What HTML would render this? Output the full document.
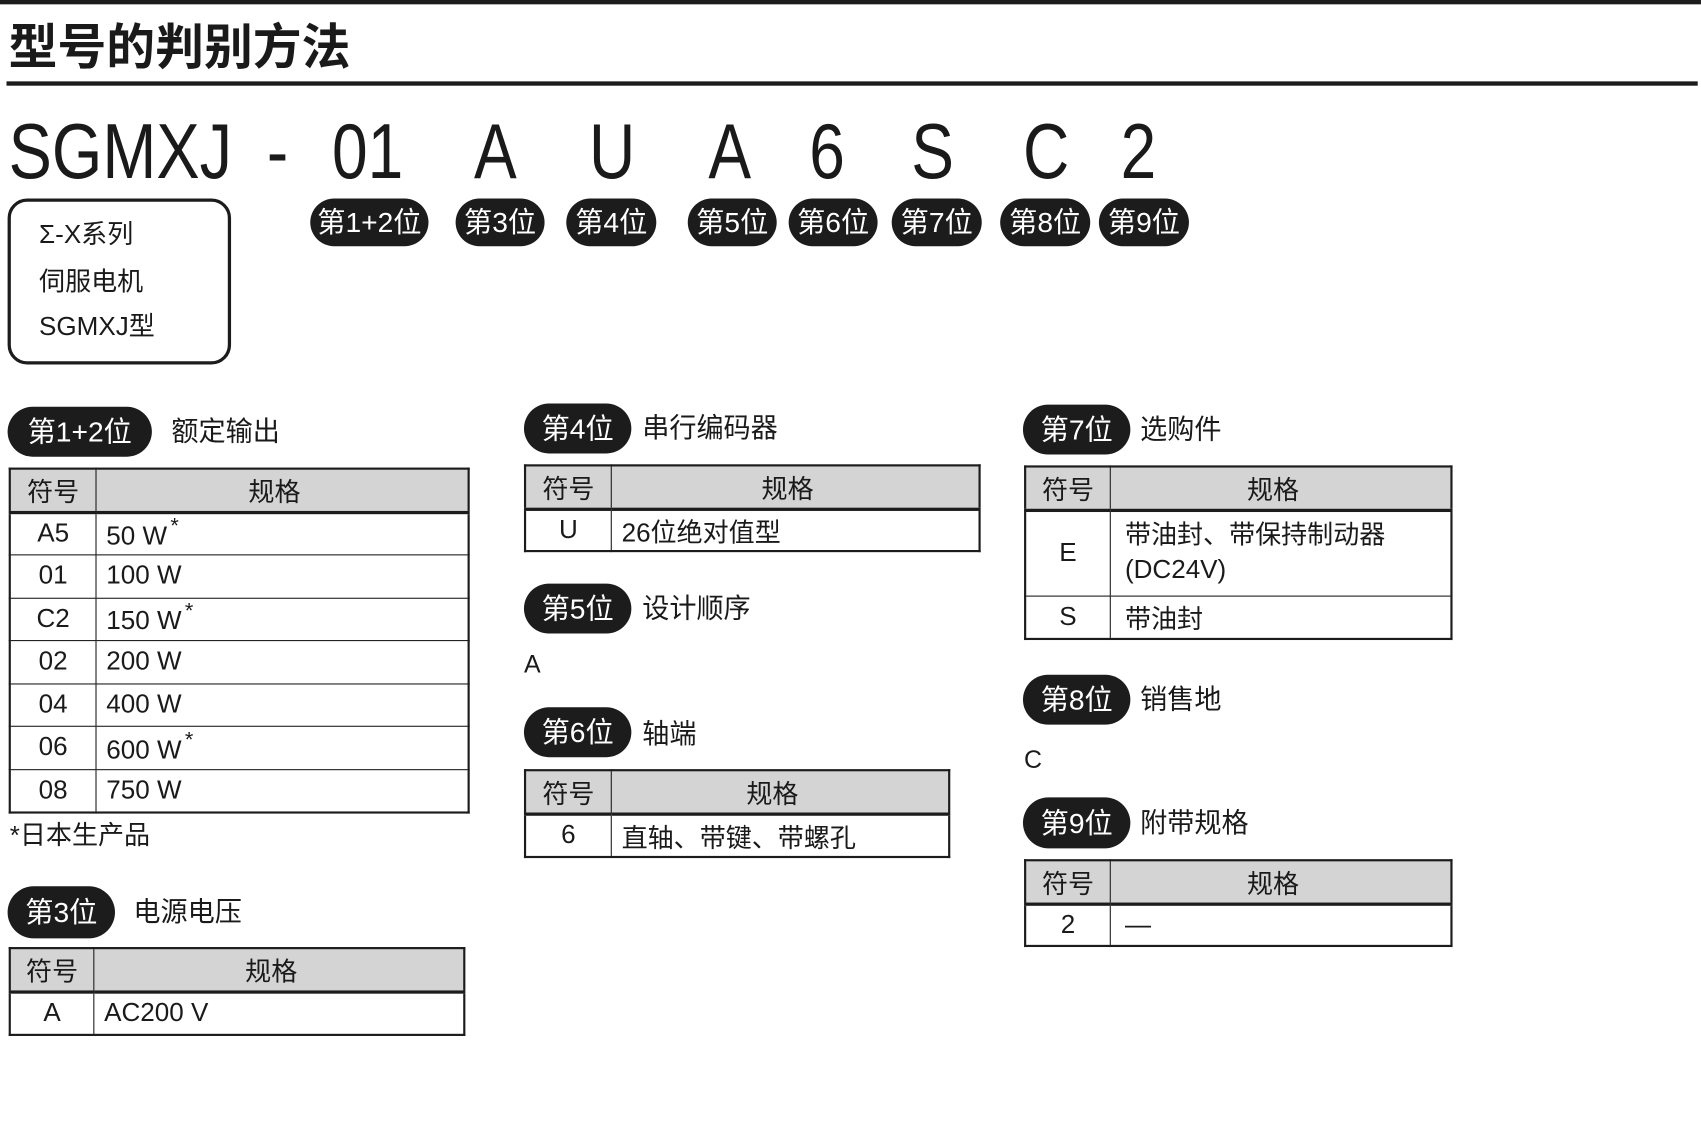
<!DOCTYPE html>
<html><head><meta charset="utf-8">
<style>
html,body{margin:0;padding:0;background:#fff;width:1701px;height:1134px;overflow:hidden}
#c{position:absolute;left:0;top:0;width:1568px;height:1045px;transform:scale(1.0848);transform-origin:0 0;font-family:"Liberation Sans Narrow","Liberation Sans","Noto Sans CJK SC",sans-serif;color:#1a1a1a}
.a{position:absolute;white-space:nowrap}
.pill{position:absolute;background:#1c1c1c;color:#fff;border-radius:24px;font-size:26px;display:flex;align-items:center;justify-content:center;padding-bottom:3px;box-sizing:border-box;font-family:"Liberation Sans Narrow","Liberation Sans","Noto Sans CJK SC",sans-serif}
.lbl{position:absolute;font-size:25px;line-height:30px;font-family:"Liberation Sans","Noto Sans CJK SC",sans-serif}
.big{position:absolute;top:100px;font-size:72px;line-height:80px;transform:scaleX(0.82);transform-origin:0 0;font-family:"Liberation Sans",sans-serif}
table{position:absolute;border-collapse:collapse;border:2.5px solid #1c1c1c;font-size:24px;font-family:"Liberation Sans Narrow","Liberation Sans","Noto Sans CJK SC",sans-serif}
td{border:1.5px solid #1c1c1c;padding:0;vertical-align:middle}
tr.h td{background:#d4d4d4;text-align:center;border-bottom:3px solid #1c1c1c}
tr.h td+td{padding-right:14px}
td.s{text-align:center}
td.v{padding-left:9px}
sup{font-size:20px;position:relative;top:-2px;margin-left:3px}
</style></head><body>
<div id="c">
<div class="a" style="left:0;top:0;width:1568px;height:4px;background:#1c1c1c"></div>
<div class="a" style="left:8px;top:10px;font-size:45px;font-weight:bold;line-height:60px;font-family:'Noto Sans CJK SC',sans-serif">型号的判别方法</div>
<div class="a" style="left:6px;top:75px;width:1559px;height:3.5px;background:#1c1c1c"></div>

<div class="big" style="left:8px;transform:scaleX(0.83)">SGMXJ</div>
<div class="big" style="left:246px">-</div>
<div class="big" style="left:306px">01</div>
<div class="big" style="left:437px">A</div>
<div class="big" style="left:543px">U</div>
<div class="big" style="left:653px">A</div>
<div class="big" style="left:746px">6</div>
<div class="big" style="left:840px">S</div>
<div class="big" style="left:943px">C</div>
<div class="big" style="left:1033px">2</div>

<div class="pill" style="left:286px;top:183px;width:109px;height:44px">第1+2位</div>
<div class="pill" style="left:420px;top:183px;width:82px;height:44px">第3位</div>
<div class="pill" style="left:522px;top:183px;width:83px;height:44px">第4位</div>
<div class="pill" style="left:634px;top:183px;width:82px;height:44px">第5位</div>
<div class="pill" style="left:727px;top:183px;width:82px;height:44px">第6位</div>
<div class="pill" style="left:822px;top:183px;width:83px;height:44px">第7位</div>
<div class="pill" style="left:922px;top:183px;width:83px;height:44px">第8位</div>
<div class="pill" style="left:1013px;top:183px;width:83px;height:44px">第9位</div>

<div class="a" style="left:7px;top:183px;width:200px;height:147px;border:3px solid #1c1c1c;border-radius:18px"></div>
<div class="lbl" style="left:36px;top:202px;font-size:24px">Σ-X系列</div>
<div class="lbl" style="left:36px;top:246px;font-size:24px">伺服电机</div>
<div class="lbl" style="left:36px;top:287px;font-size:24px">SGMXJ型</div>

<div class="pill" style="left:7px;top:375px;width:133px;height:46px">第1+2位</div>
<div class="lbl" style="left:158px;top:383px">额定输出</div>
<table style="left:8px;top:431px;width:425px">
<tr class="h" style="height:40px"><td style="width:78px">符号</td><td>规格</td></tr>
<tr style="height:39.5px"><td class="s">A5</td><td class="v">50 W<sup>*</sup></td></tr>
<tr style="height:39.5px"><td class="s">01</td><td class="v">100 W</td></tr>
<tr style="height:39.5px"><td class="s">C2</td><td class="v">150 W<sup>*</sup></td></tr>
<tr style="height:39.5px"><td class="s">02</td><td class="v">200 W</td></tr>
<tr style="height:39.5px"><td class="s">04</td><td class="v">400 W</td></tr>
<tr style="height:39.5px"><td class="s">06</td><td class="v">600 W<sup>*</sup></td></tr>
<tr style="height:39.5px"><td class="s">08</td><td class="v">750 W</td></tr>
</table>
<div class="lbl" style="left:9px;top:756px;font-size:24px">*日本生产品</div>

<div class="pill" style="left:7px;top:817px;width:99px;height:48px">第3位</div>
<div class="lbl" style="left:123px;top:826px">电源电压</div>
<table style="left:8px;top:873px;width:421px">
<tr class="h" style="height:40px"><td style="width:76px">符号</td><td>规格</td></tr>
<tr style="height:40px"><td class="s">A</td><td class="v">AC200 V</td></tr>
</table>

<div class="pill" style="left:483px;top:372px;width:99px;height:46px">第4位</div>
<div class="lbl" style="left:592px;top:380px">串行编码器</div>
<table style="left:483px;top:428px;width:421px">
<tr class="h" style="height:40px"><td style="width:78px">符号</td><td>规格</td></tr>
<tr style="height:39px"><td class="s">U</td><td class="v">26位绝对值型</td></tr>
</table>

<div class="pill" style="left:483px;top:538px;width:99px;height:46px">第5位</div>
<div class="lbl" style="left:592px;top:546px">设计顺序</div>
<div class="lbl" style="left:483px;top:597px;font-size:23px">A</div>

<div class="pill" style="left:483px;top:652px;width:99px;height:46px">第6位</div>
<div class="lbl" style="left:592px;top:662px">轴端</div>
<table style="left:483px;top:709px;width:393px">
<tr class="h" style="height:40px"><td style="width:78px">符号</td><td>规格</td></tr>
<tr style="height:40px"><td class="s">6</td><td class="v">直轴、带键、带螺孔</td></tr>
</table>

<div class="pill" style="left:943px;top:373px;width:99px;height:46px">第7位</div>
<div class="lbl" style="left:1051px;top:381px">选购件</div>
<table style="left:944px;top:429px;width:395px">
<tr class="h" style="height:40px"><td style="width:77px">符号</td><td>规格</td></tr>
<tr style="height:79px"><td class="s">E</td><td class="v" style="line-height:32px;padding-left:13px">带油封、带保持制动器<br>(DC24V)</td></tr>
<tr style="height:40px"><td class="s">S</td><td class="v" style="padding-left:13px">带油封</td></tr>
</table>

<div class="pill" style="left:943px;top:622px;width:99px;height:46px">第8位</div>
<div class="lbl" style="left:1051px;top:630px">销售地</div>
<div class="lbl" style="left:944px;top:685px;font-size:23px">C</div>

<div class="pill" style="left:943px;top:735px;width:99px;height:47px">第9位</div>
<div class="lbl" style="left:1051px;top:744px">附带规格</div>
<table style="left:944px;top:792px;width:395px">
<tr class="h" style="height:40px"><td style="width:77px">符号</td><td>规格</td></tr>
<tr style="height:39px"><td class="s">2</td><td class="v" style="padding-left:13px">—</td></tr>
</table>
</div>
</body></html>
